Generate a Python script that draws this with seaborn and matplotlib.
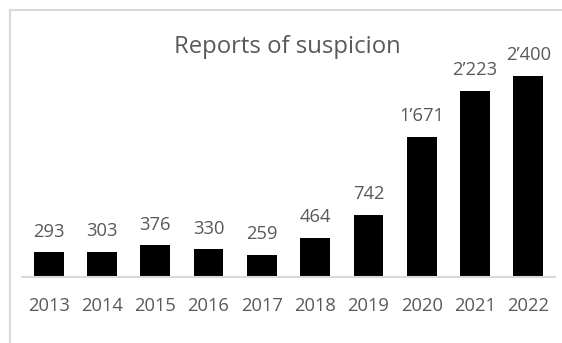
import matplotlib
matplotlib.use("Agg")
import matplotlib.pyplot as plt
import matplotlib.patches as mpatches
import pandas as pd
import seaborn as sns

years = ["2013", "2014", "2015", "2016", "2017", "2018", "2019", "2020", "2021", "2022"]
reports = [293, 303, 376, 330, 259, 464, 742, 1671, 2223, 2400]
title_text = "Reports of suspicion"

sns.set_theme(style="white")
plt.rcParams["font.family"] = ["Open Sans", "DejaVu Sans"]

TEXT = "#595959"
GRID = "#D9D9D9"

W, H = 562, 343
fig = plt.figure(figsize=(W / 100, H / 100), dpi=100)
fig.patch.set_facecolor("white")

# plot area in pixel terms: x 22..555, baseline at y=277, top at y=30
left, right, base, top = 22, 555, 277, 30
ax = fig.add_axes([left / W, (H - base) / H, (right - left) / W, (base - top) / H])

df = pd.DataFrame({"year": years, "reports": reports})
sns.barplot(data=df, x="year", y="reports", color="black", width=0.56,
            saturation=1, ax=ax, edgecolor="none")

ymax = 2400 * (base - top) / 201.3
ax.set_ylim(0, ymax)
ax.set_xlim(-0.5, len(years) - 0.5)

for i, v in enumerate(reports):
    label = f"{v:,}".replace(",", "\u2019")
    ax.annotate(label, (i, v), xytext=(0, 8.5), textcoords="offset points",
                ha="center", va="bottom", fontsize=13.2, color=TEXT)

ax.set_xlabel("")
ax.set_ylabel("")
ax.set_yticks([])
ax.tick_params(axis="x", length=0, pad=14.5, labelsize=13.2, labelcolor=TEXT)
for s in ["top", "left", "right"]:
    ax.spines[s].set_visible(False)
ax.spines["bottom"].set_color(GRID)
ax.spines["bottom"].set_linewidth(1.5)

fig.text(287.5 / W, 1 - 47 / H, title_text, ha="center", va="center",
         fontsize=17.2, color=TEXT)

# chart frame (only the top and left edges fall inside the image)
frame = mpatches.Rectangle((9.5 / W, -0.2), 1.2, 1 - 9.5 / H + 0.2,
                           transform=fig.transFigure, fill=False,
                           edgecolor=GRID, linewidth=1.5, clip_on=False)
fig.patches.append(frame)

fig.savefig("out.png", dpi=100, facecolor="white")
